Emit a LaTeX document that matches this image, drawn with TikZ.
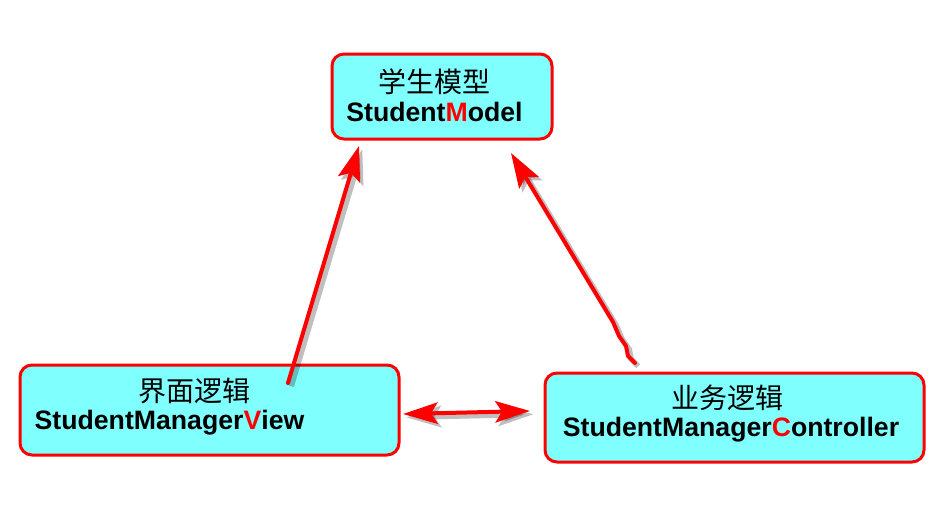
\documentclass[tikz,border=0pt]{standalone}
\usepackage{fontspec}
\setmainfont{Liberation Sans}
\newfontfamily\cjk{Noto Sans CJK SC}
\usetikzlibrary{arrows.meta}
\definecolor{boxcyan}{RGB}{128,255,255}

\tikzset{
    box/.style={draw=red, fill=boxcyan, line width=2.25pt, rounded corners=9pt,
        inner sep=0pt, outer sep=0pt},
    cnlabel/.style={font=\cjk\fontsize{21}{24}\selectfont, inner sep=0pt},
    enlabel/.style={font=\bfseries\fontsize{20}{24}\selectfont, inner sep=0pt},
    arr/.style={red, line width=3pt, line cap=round, line join=round,
        -{Stealth[length=26pt, width=17pt, inset=5pt]},
        preaction={draw=black, opacity=0.25, line width=4pt,
            transform canvas={shift={(2.5pt,-2.5pt)}}}},
    dblarr/.style={arr, {Stealth[length=26pt, width=16pt, inset=5pt]}-{Stealth[length=26pt, width=16pt, inset=5pt]}}
}

\begin{document}
\begin{tikzpicture}[x=0.75pt, y=-0.75pt]
    \useasboundingbox (0,0) rectangle (950,504);

    % boxes
    \node[box, minimum width=165pt, minimum height=63.75pt] (model) at (442,96.5) {};
    \node[box, minimum width=284.25pt, minimum height=67.5pt] (view) at (209.5,410) {};
    \node[box, minimum width=284.25pt, minimum height=66.75pt] (ctrl) at (734.5,417.5) {};

    % texts
    \node[cnlabel] (modelcn) at (434,82) {学生模型};
    \node[enlabel] (modelen) at (434.5,112) {Student\textcolor{red}{M}odel};
    \node[cnlabel] (viewcn) at (194,391) {界面逻辑};
    \node[enlabel] (viewen) at (169.5,423) {StudentManager\textcolor{red}{V}iew};
    \node[cnlabel] (ctrlcn) at (727,398) {业务逻辑};
    \node[enlabel] (ctrlen) at (731,430) {StudentManager\textcolor{red}{C}ontroller};

    % arrow ends
    \coordinate (viewup) at (288,383);
    \coordinate (modelleft) at (359,146);
    \coordinate (ctrlup) at (635,363);
    \coordinate (modelright) at (511,153);
    \coordinate (viewright) at (403,414);
    \coordinate (ctrlleft) at (530,411);

    \draw[arr] (viewup) -- (modelleft);
    \draw[arr] (ctrlup) -- (628,356) -- (626,346) -- (619,336) -- (613,322) -- (modelright);
    \draw[dblarr] (viewright) -- (ctrlleft);
\end{tikzpicture}
\end{document}
